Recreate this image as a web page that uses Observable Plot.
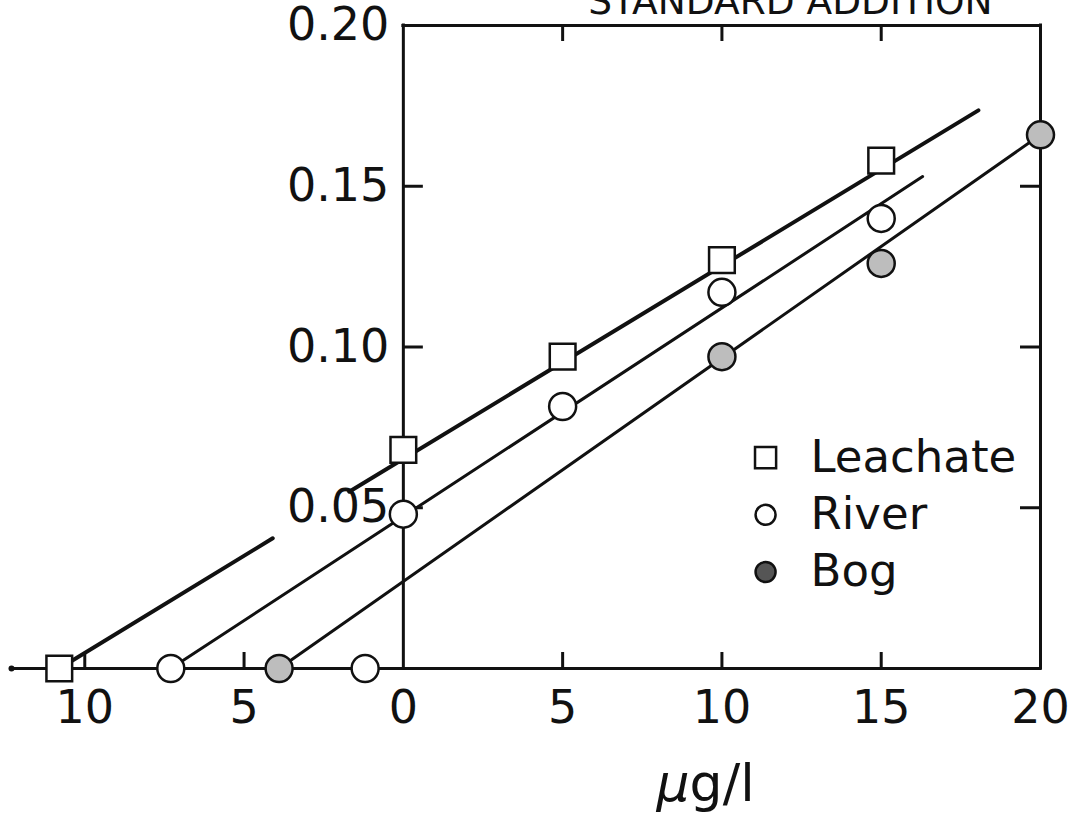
<!DOCTYPE html>
<html>
<head>
<meta charset="utf-8">
<script src="https://cdn.jsdelivr.net/npm/d3@7"></script>
<script src="https://cdn.jsdelivr.net/npm/@observablehq/plot@0.6"></script>
<style>
  html, body { margin: 0; padding: 0; background: #fff; }
  #chart svg { display: block; }
</style>
</head>
<body>
<div id="chart"></div>
<script>
// Standard addition: response vs added concentration (µg/l), three sample types.
const seriesNames = ["Leachate", "River", "Bog"];

const leachateX = [-10.8, 0, 5, 10, 15];
const leachateY = [0, 0.068, 0.097, 0.127, 0.158];

const riverX = [-7.3, -1.2, 0, 5, 10, 15];
const riverY = [0, 0, 0.048, 0.0815, 0.117, 0.140];

const bogX = [-3.9, 10, 15, 20];
const bogY = [0, 0.097, 0.126, 0.166];

// Fitted lines as drawn: [x1, y1, x2, y2] for each stroke
const leachateFit = [[-10.8, 0, -4.1, 0.0405], [-1.7, 0.055, 18.05, 0.1736]];
const riverFit = [[-7.3, 0, 16.3, 0.153]];
const bogFit = [[-3.9, 0, 20, 0.166]];

// Axes
const xMin = -12.3, xMax = 20;
const yMin = 0, yMax = 0.20;
const xTicks = [-10, -5, 0, 5, 10, 15, 20];
const xTickLabels = ["10", "5", "0", "5", "10", "15", "20"];
const xTickMarks = [-10, -5, 5, 10, 15];
const xTopTickMarks = [5, 10, 15];
const yTicks = [0.05, 0.10, 0.15, 0.20];
const yTickLabels = ["0.05", "0.10", "0.15", "0.20"];
const yTickMarks = [0.05, 0.10, 0.15];
const titleText = "STANDARD ADDITION";

// Layout
const W = 1083, H = 823;
const M = {left: 11, right: 43, top: 25, bottom: 155};
const pxPerX = (W - M.left - M.right) / (xMax - xMin);
const pxPerY = (H - M.top - M.bottom) / (yMax - yMin);
const hTick = 20 / pxPerX;   // inward tick on the vertical axes
const vTick = 16 / pxPerY;   // inward tick on the horizontal axes
const font = "DejaVu Sans";
const ink = "#111";

const pts = (xs, ys) => xs.map((x, i) => ({x, y: ys[i]}));
const leachate = pts(leachateX, leachateY);
const river = pts(riverX, riverY);
const bog = pts(bogX, bogY);
const segs = (fit) => fit.map(([x1, y1, x2, y2]) => ({x1, y1, x2, y2}));

// Legend placement (data space anchor, rows stacked downward)
const legendX = 11.37, legendY0 = 0.0656, legendStep = 0.0178;
const legendRow = (i) => [{x: legendX, y: legendY0 - i * legendStep, name: seriesNames[i]}];

const symbols = [
  {symbol: "square", r: 14.5, fill: "white"},
  {symbol: "circle", r: 13.5, fill: "white"},
  {symbol: "circle", r: 13.5, fill: "#bdbdbd"}
];
const legendSymbols = [
  {symbol: "square", r: 7, fill: "white"},
  {symbol: "circle", r: 10, fill: "white"},
  {symbol: "circle", r: 10, fill: "#555"}
];

const chart = Plot.plot({
  width: W,
  height: H,
  marginLeft: M.left,
  marginRight: M.right,
  marginTop: M.top,
  marginBottom: M.bottom,
  x: {domain: [xMin, xMax], axis: null},
  y: {domain: [yMin, yMax], axis: null},
  style: {fontFamily: font, background: "white", color: ink, overflow: "visible"},
  marks: [
    // frame and axis lines
    Plot.ruleY([yMin], {x1: xMin, x2: xMax, stroke: ink, strokeWidth: 3, strokeLinecap: "square"}),
    Plot.ruleY([yMax], {x1: 0, x2: xMax, stroke: ink, strokeWidth: 3, strokeLinecap: "square"}),
    Plot.ruleX([0, xMax], {y1: yMin, y2: yMax, stroke: ink, strokeWidth: 3, strokeLinecap: "square"}),
    Plot.dot([xMin], {x: d => d, y: yMin, r: 3, fill: ink}),

    // inward tick marks
    Plot.ruleY(yTickMarks, {x1: 0, x2: hTick, stroke: ink, strokeWidth: 3}),
    Plot.ruleY(yTickMarks, {x1: xMax - hTick, x2: xMax, stroke: ink, strokeWidth: 3}),
    Plot.ruleX(xTickMarks, {y1: yMin, y2: yMin + vTick, stroke: ink, strokeWidth: 3}),
    Plot.ruleX(xTopTickMarks, {y1: yMax - vTick, y2: yMax, stroke: ink, strokeWidth: 3}),

    // tick labels
    Plot.text(yTicks, {
      x: 0, y: d => d, text: (d, i) => yTickLabels[i],
      textAnchor: "end", lineAnchor: "middle", dx: -14, fontSize: 46, fill: ink
    }),
    Plot.text(xTicks, {
      x: d => d, y: yMin, text: (d, i) => xTickLabels[i],
      textAnchor: "middle", lineAnchor: "top", dy: 22, fontSize: 46, fill: ink
    }),

    // axis unit label
    Plot.text(["μ"], {x: 9.3, y: yMin, text: d => d, textAnchor: "end", lineAnchor: "bottom",
      dy: 132, dx: -10, fontSize: 52, fontStyle: "italic", fill: ink}),
    Plot.text(["g/l"], {x: 9.3, y: yMin, text: d => d, textAnchor: "start", lineAnchor: "bottom",
      dy: 132, dx: -10, fontSize: 52, fill: ink}),

    // title
    Plot.text([titleText], {x: 12.15, y: yMax, text: d => d, textAnchor: "middle",
      lineAnchor: "bottom", dy: -12, fontSize: 37.5, fill: ink}),

    // fitted lines
    Plot.link(segs(leachateFit), {x1: "x1", y1: "y1", x2: "x2", y2: "y2", stroke: ink, strokeWidth: 4, strokeLinecap: "round"}),
    Plot.link(segs(riverFit), {x1: "x1", y1: "y1", x2: "x2", y2: "y2", stroke: ink, strokeWidth: 3, strokeLinecap: "round"}),
    Plot.link(segs(bogFit), {x1: "x1", y1: "y1", x2: "x2", y2: "y2", stroke: ink, strokeWidth: 3, strokeLinecap: "round"}),

    // measured points
    Plot.dot(leachate, {x: "x", y: "y", ...symbols[0], stroke: ink, strokeWidth: 2.5}),
    Plot.dot(river, {x: "x", y: "y", ...symbols[1], stroke: ink, strokeWidth: 2.5}),
    Plot.dot(bog, {x: "x", y: "y", ...symbols[2], stroke: ink, strokeWidth: 2.5}),

    // legend
    ...seriesNames.flatMap((name, i) => [
      Plot.dot(legendRow(i), {x: "x", y: "y", ...legendSymbols[i], r: legendSymbols[i].r * (i === 0 ? 1.7 : 1), stroke: ink, strokeWidth: 2.5}),
      Plot.text(legendRow(i), {x: "x", y: "y", text: "name", textAnchor: "start", lineAnchor: "middle",
        dx: 45, fontSize: 45, fill: ink})
    ])
  ]
});

document.getElementById("chart").appendChild(chart);
</script>
</body>
</html>
